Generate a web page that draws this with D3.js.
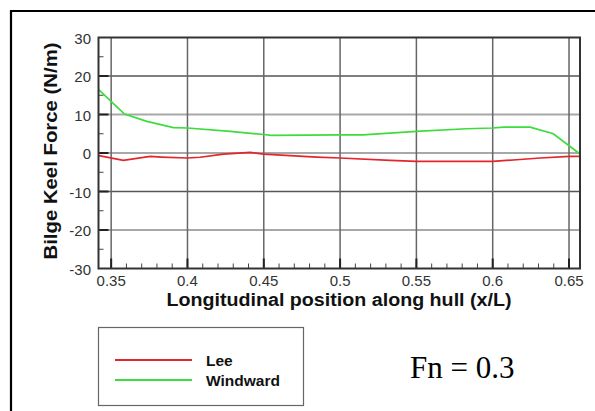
<!DOCTYPE html>
<html><head><meta charset="utf-8">
<script src="https://cdn.jsdelivr.net/npm/d3@7"></script>
<style>html,body{margin:0;padding:0;background:#fff;}svg{display:block;}</style>
</head><body>
<svg id="c" width="595" height="411"></svg>
<script>
// ---- data ----
const xTicks = [0.35, 0.4, 0.45, 0.5, 0.55, 0.6, 0.65];
const xTickLabels = ["0.35", "0.4", "0.45", "0.5", "0.55", "0.6", "0.65"];
const yTicks = [-30, -20, -10, 0, 10, 20, 30];
const yTickLabels = ["-30", "-20", "-10", "0", "10", "20", "30"];
const leeX = [0.342, 0.358, 0.3755, 0.383, 0.4, 0.4083, 0.4236, 0.441, 0.45, 0.4673, 0.4848, 0.5, 0.5328, 0.55, 0.6, 0.6157, 0.631, 0.6505, 0.657];
const leeY = [-0.7, -1.9, -0.9, -1.05, -1.3, -1.1, -0.3, 0.15, -0.3, -0.7, -1.05, -1.3, -1.9, -2.2, -2.2, -1.75, -1.3, -0.9, -0.9];
const windX = [0.342, 0.3587, 0.3734, 0.3908, 0.4, 0.428, 0.45, 0.455, 0.5, 0.515, 0.55, 0.583, 0.6, 0.607, 0.6245, 0.6397, 0.657];
const windY = [16.4, 10.1, 8.2, 6.6, 6.5, 5.6, 4.8, 4.6, 4.7, 4.7, 5.6, 6.3, 6.5, 6.7, 6.7, 5.0, -0.2];
const seriesNames = ["Lee", "Windward"];
const xTitle = "Longitudinal position along hull (x/L)";
const yTitle = "Bilge Keel Force (N/m)";
const annotation = "Fn = 0.3";

// ---- drawing ----
const svg = d3.select("#c");
const L = 98.5, R = 580, T = 37.5, B = 268.5;
const x = d3.scaleLinear().domain([0.3417, 0.6572]).range([L, R]);
const y = d3.scaleLinear().domain([-30, 30]).range([B, T]);
const sans = "'Liberation Sans', Arial, Helvetica, sans-serif";

// outer frame
svg.append("path").attr("d", "M11,420 L11,11 L600,11").attr("fill", "none").attr("stroke", "#000").attr("stroke-width", 2.2);

const g = svg.append("g");
// grid
const yGrid = [-20, -10, 0, 10, 20];
g.selectAll(".hg").data(yGrid).join("line")
  .attr("x1", L).attr("x2", R).attr("y1", d => y(d)).attr("y2", d => y(d))
  .attr("stroke", d => (d === 20 || d === -10) ? "#555" : "#a8a8a8")
  .attr("stroke-width", d => (d === 20 || d === -10) ? 1.5 : 2);
g.selectAll(".vg").data(xTicks).join("line")
  .attr("x1", d => x(d)).attr("x2", d => x(d)).attr("y1", T).attr("y2", B)
  .attr("stroke", "#666").attr("stroke-width", 1.5);

// minor ticks
const xMinor = d3.range(34, 66).map(v => v / 100).filter(v => x(v) > L + 1 && x(v) < R - 1);
g.selectAll(".xm").data(xMinor).join("line")
  .attr("x1", d => x(d)).attr("x2", d => x(d)).attr("y1", B).attr("y2", B - 5)
  .attr("stroke", "#444").attr("stroke-width", 1);
const yMinor = [-25, -15, -5, 5, 15, 25];
g.selectAll(".ym").data(yMinor).join("line")
  .attr("x1", L).attr("x2", L + 5).attr("y1", d => y(d)).attr("y2", d => y(d))
  .attr("stroke", "#444").attr("stroke-width", 1);
g.selectAll(".yM").data(yGrid).join("line")
  .attr("x1", L).attr("x2", L + 10).attr("y1", d => y(d)).attr("y2", d => y(d))
  .attr("stroke", "#222").attr("stroke-width", 2);
g.selectAll(".xM").data(xTicks).join("line")
  .attr("x1", d => x(d)).attr("x2", d => x(d)).attr("y1", B).attr("y2", B - 10)
  .attr("stroke", "#222").attr("stroke-width", 2);

// series
const line = d3.line().x(d => x(d[0])).y(d => y(d[1]));
g.append("path").datum(windX.map((v, i) => [v, windY[i]]))
  .attr("d", line).attr("fill", "none").attr("stroke", "#3ddc3d").attr("stroke-width", 1.7);
g.append("path").datum(leeX.map((v, i) => [v, leeY[i]]))
  .attr("d", line).attr("fill", "none").attr("stroke", "#e3262b").attr("stroke-width", 1.7);

// plot box
g.append("rect").attr("x", L).attr("y", T).attr("width", R - L).attr("height", B - T)
  .attr("fill", "none").attr("stroke", "#333").attr("stroke-width", 2);

// tick labels
g.selectAll(".xl").data(xTicks).join("text")
  .attr("x", d => x(d)).attr("y", 285.5).attr("text-anchor", "middle")
  .attr("font-family", sans).attr("font-size", 15).attr("fill", "#333")
  .text((d, i) => xTickLabels[i]);
g.selectAll(".yl").data(yTicks).join("text")
  .attr("x", 91).attr("y", d => y(d) + 6).attr("text-anchor", "end")
  .attr("font-family", sans).attr("font-size", 15).attr("fill", "#333")
  .text((d, i) => yTickLabels[i]);

// titles
svg.append("text").attr("x", 339).attr("y", 305.5).attr("text-anchor", "middle")
  .attr("font-family", sans).attr("font-weight", "bold").attr("font-size", 18).attr("fill", "#111")
  .attr("textLength", 345).attr("lengthAdjust", "spacingAndGlyphs")
  .text(xTitle);
svg.append("text").attr("transform", "translate(57,151) rotate(-90)").attr("text-anchor", "middle")
  .attr("font-family", sans).attr("font-weight", "bold").attr("font-size", 18).attr("fill", "#111")
  .attr("textLength", 217).attr("lengthAdjust", "spacingAndGlyphs")
  .text(yTitle);

// legend
svg.append("rect").attr("x", 98.5).attr("y", 327.5).attr("width", 205).attr("height", 78)
  .attr("fill", "#fff").attr("stroke", "#666").attr("stroke-width", 1.2);
const legColors = ["#e3262b", "#3ddc3d"];
const legY = [360, 380];
seriesNames.forEach((n, i) => {
  svg.append("line").attr("x1", 115).attr("x2", 192).attr("y1", legY[i]).attr("y2", legY[i])
    .attr("stroke", legColors[i]).attr("stroke-width", 2.2);
  svg.append("text").attr("x", 206).attr("y", legY[i] + 5.5)
    .attr("font-family", sans).attr("font-weight", "bold").attr("font-size", 15.5).attr("fill", "#111")
    .text(n);
});

// annotation
svg.append("text").attr("x", 410).attr("y", 378)
  .attr("font-family", "'Liberation Serif', 'Times New Roman', serif").attr("font-size", 31).attr("fill", "#000")
  .text(annotation);
</script>
</body></html>
